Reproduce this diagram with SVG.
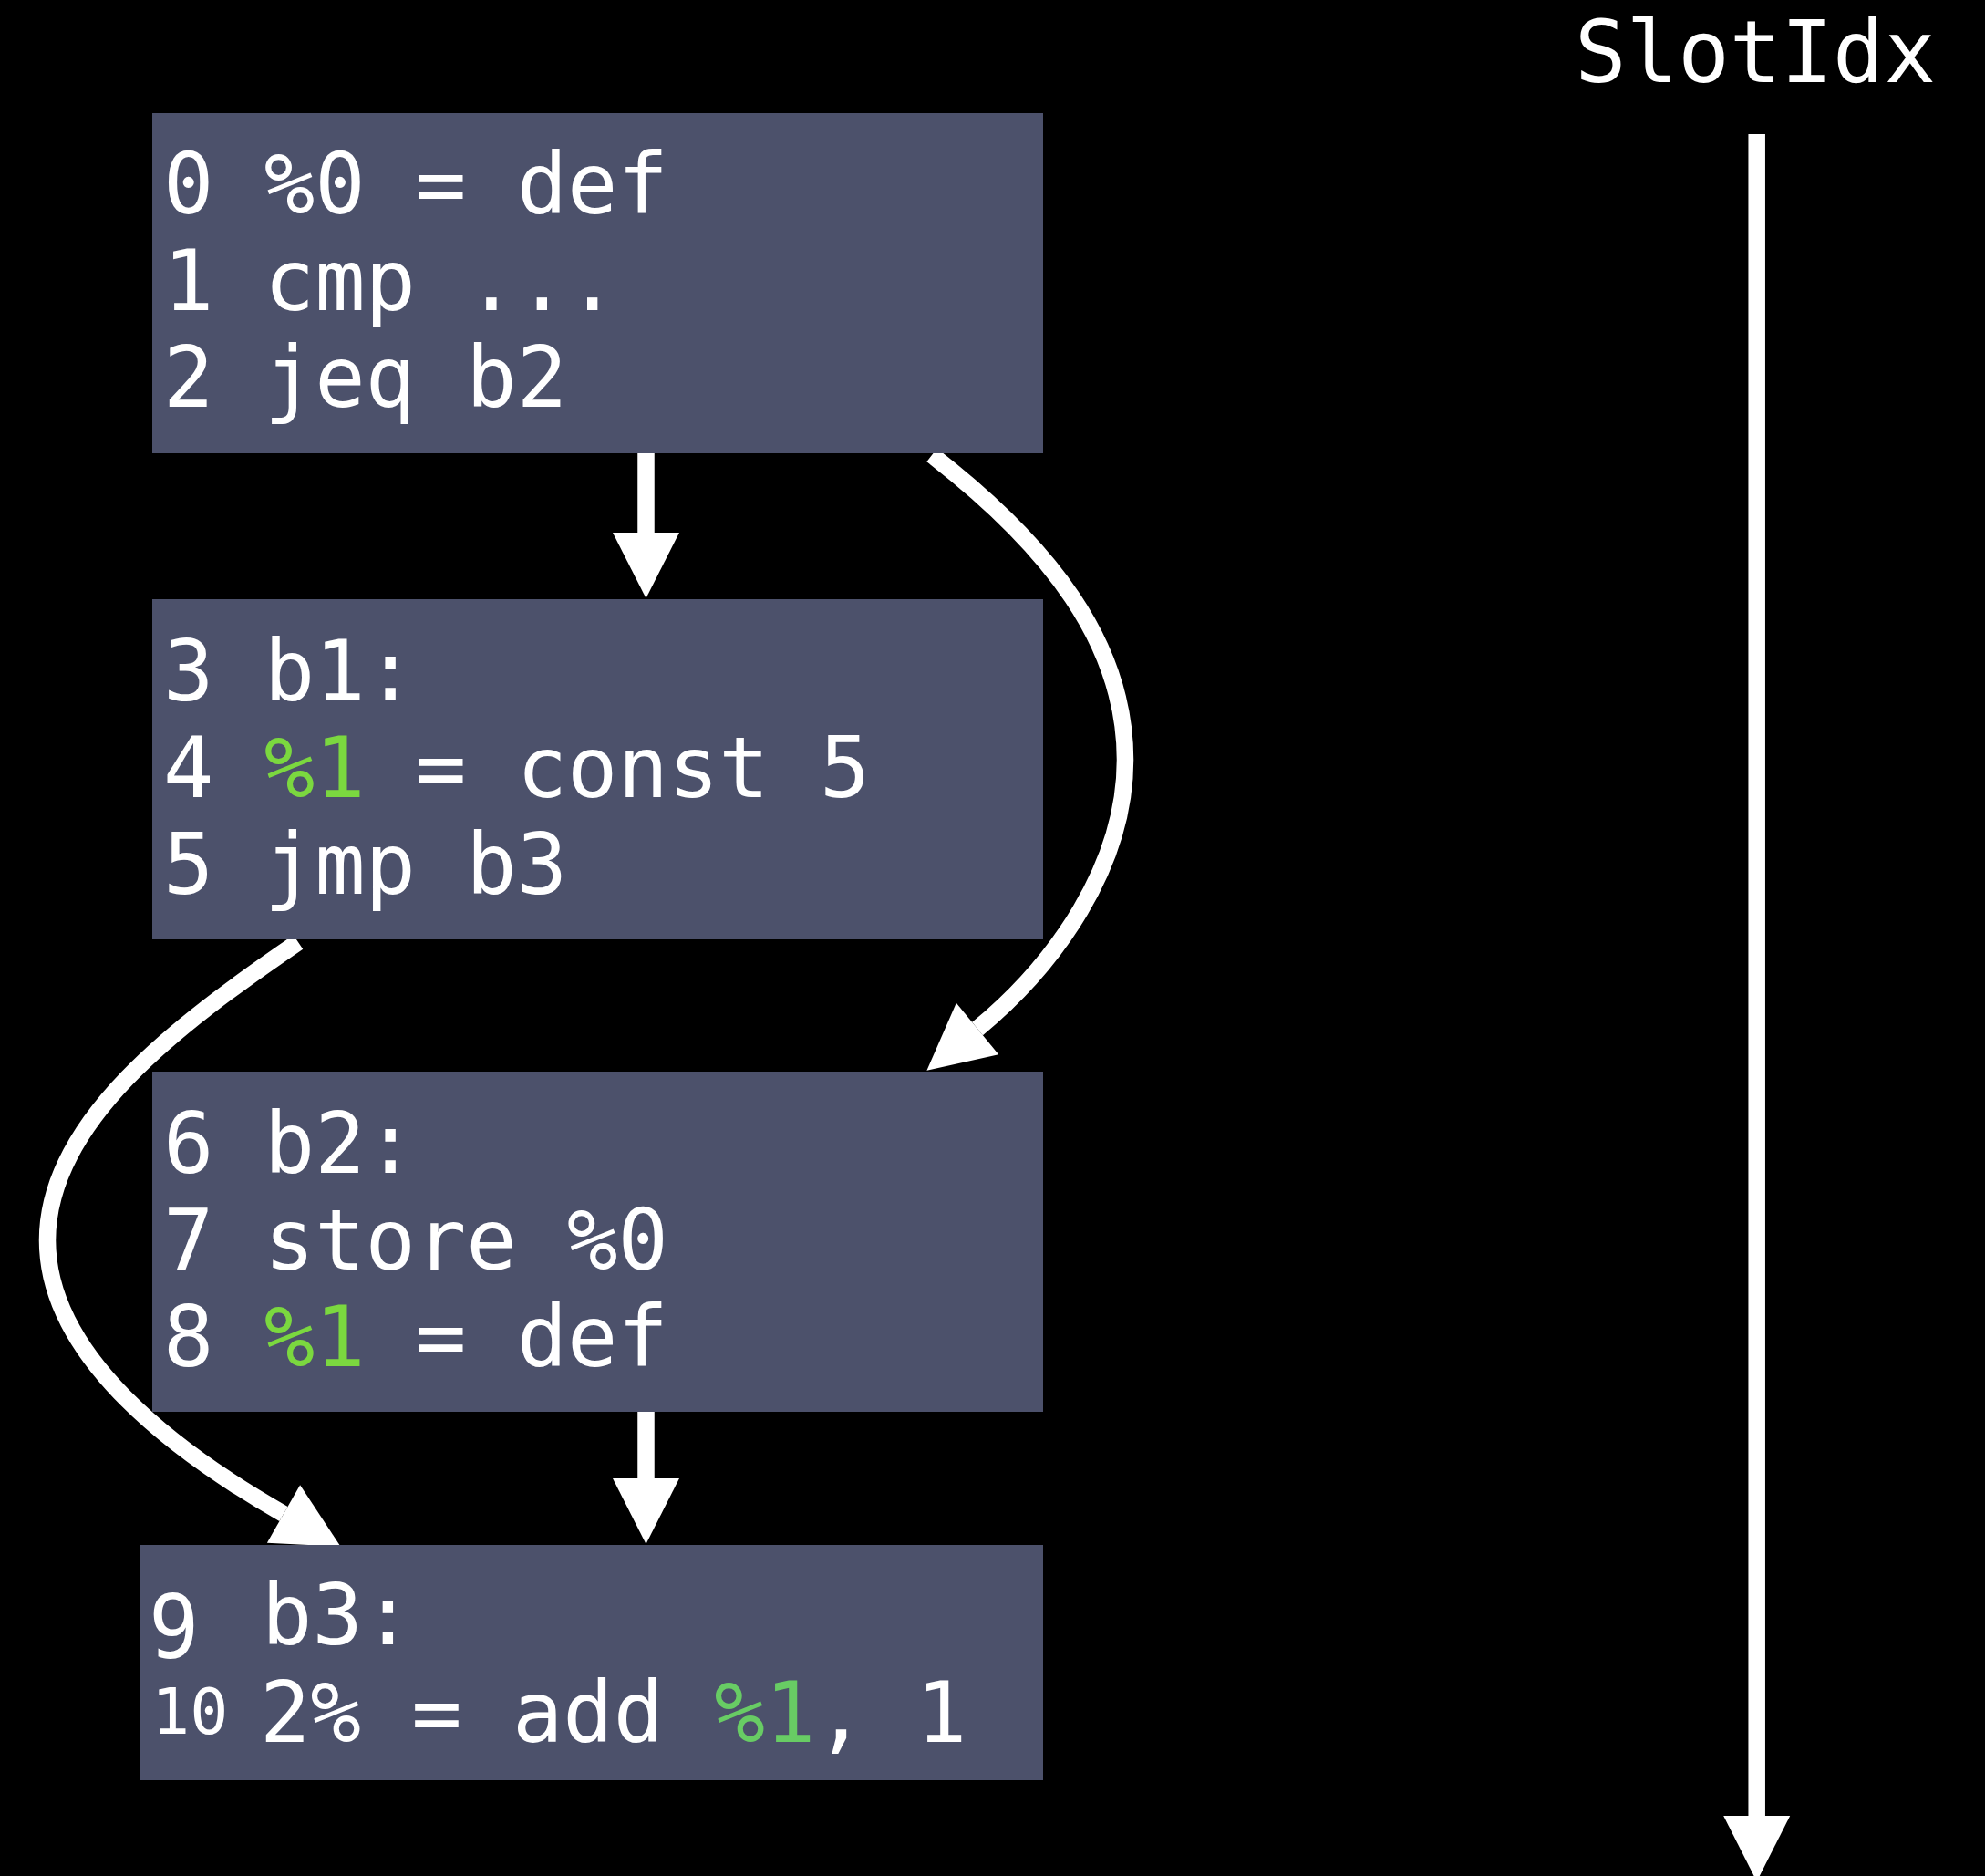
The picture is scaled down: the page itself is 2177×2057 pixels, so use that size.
<svg xmlns="http://www.w3.org/2000/svg" width="2177" height="2057" viewBox="0 0 2177 2057">
<defs>
<marker id="ah" markerUnits="userSpaceOnUse" markerWidth="72" markerHeight="73" refX="0" refY="36.5" orient="auto" viewBox="0 0 72 73" overflow="visible">
<path d="M0,0 L72,36.5 L0,73 z" fill="#ffffff"/>
</marker>
<style>
.box{fill:#4c516b}
.t{font-family:"DejaVu Sans Mono",monospace;font-size:92px;fill:#ffffff;white-space:pre}
.g{fill:#7bd83f}
.g2{fill:#68cc64}
.edge{fill:none;stroke:#ffffff;stroke-width:18.5;marker-end:url(#ah)}
</style>
</defs>
<rect width="2177" height="2057" fill="#000000"/>
<g id="connectors">
<path class="edge" d="M708.5,497 L708.5,584"/>
<path class="edge" d="M1022,499 C1150,598 1234,705 1234,833 C1234,950 1157,1058 1072,1128"/>
<path class="edge" d="M327,1033 C194,1124 52,1230 52,1360 C52,1490 198,1595.5 311,1660"/>
<path class="edge" d="M708.5,1548 L708.5,1621"/>
</g>
<g id="b0">
<rect class="box" x="167" y="124" width="977" height="373"/>
<text class="t" x="179" y="234">0 %0 = def</text>
<text class="t" x="179" y="340">1 cmp ...</text>
<text class="t" x="179" y="446">2 jeq b2</text>
</g>
<g id="b1">
<rect class="box" x="167" y="657" width="977" height="373"/>
<text class="t" x="179" y="768">3 b1:</text>
<text class="t" x="179" y="874">4 <tspan class="g">%1</tspan> = const 5</text>
<text class="t" x="179" y="980">5 jmp b3</text>
</g>
<g id="b2">
<rect class="box" x="167" y="1175" width="977" height="373"/>
<text class="t" x="179" y="1286">6 b2:</text>
<text class="t" x="179" y="1392">7 store %0</text>
<text class="t" x="179" y="1498">8 <tspan class="g">%1</tspan> = def</text>
</g>
<g id="b3">
<rect class="box" x="153" y="1694" width="991" height="258"/>
<text class="t" transform="translate(163,1818) scale(1,1.04)" x="0" y="0">9</text>
<text class="t" x="287" y="1803">b3:</text>
<text class="t" x="166" y="1901" style="font-size:70px">10</text>
<text class="t" x="285" y="1910">2% = add <tspan class="g2">%1</tspan>, 1</text>
</g>
<g id="slotidx">
<text class="t" x="1727" y="90" style="font-size:94px">SlotIdx</text>
<path class="edge" d="M1926.7,147 L1926.7,1991"/>
</g>
</svg>
